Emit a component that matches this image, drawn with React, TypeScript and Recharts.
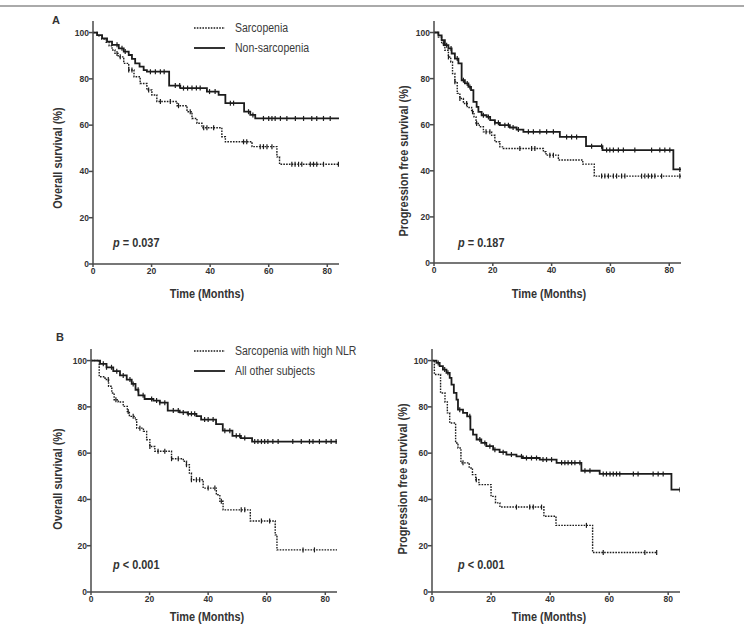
import { ComposedChart, Line, Scatter, XAxis, YAxis } from 'recharts'

const FONT =
	"'Liberation Sans Narrow', 'Arial Narrow', 'Liberation Sans', Arial, sans-serif"

const monthTicks = [0, 20, 40, 60, 80]
const percentTicks = [0, 20, 40, 60, 80, 100]

// A: overall survival, sarcopenia vs non-sarcopenia
const osSarcTime = [0, 1.5, 3.0, 4.5, 5.5, 6.5, 7.5, 8.6, 10.5, 12.2, 14.0, 16.1, 18.4, 20.1, 21.8, 28.7, 32.1, 33.8, 35.5, 37.2, 44.0, 45.2, 54.3, 62.8, 63.7]
const osSarcSurv = [100, 98.6, 97.2, 95.8, 94.3, 92.5, 91.0, 89.5, 86.7, 83.8, 80.9, 78.0, 75.2, 73.0, 70.2, 68.4, 65.8, 62.9, 60.8, 58.9, 55.0, 52.8, 50.7, 46.3, 43.1]
const osSarcCensor = [8.2, 9.3, 12.2, 13.3, 19.0, 23.0, 26.4, 29.2, 33.2, 37.8, 38.9, 41.2, 51.4, 52.5, 57.1, 58.2, 59.4, 61.1, 67.9, 69.0, 70.2, 71.3, 74.2, 75.3, 76.4, 78.7, 83.8]

const osNonTime = [0, 1.4, 3.1, 4.8, 6.5, 8.8, 10.5, 12.2, 13.3, 14.4, 15.9, 17.3, 18.4, 26.0, 29.8, 38.9, 42.9, 45.2, 51.6, 53.7, 55.4]
const osNonSurv = [100, 98.9, 97.5, 96.1, 94.7, 93.2, 91.8, 90.3, 88.6, 86.7, 85.3, 83.8, 83.1, 77.1, 76.0, 74.5, 73.1, 69.5, 65.8, 64.4, 62.9]
const osNonCensor = [8.2, 9.9, 11.0, 19.6, 21.3, 23.0, 24.3, 28.1, 29.6, 30.9, 32.3, 33.8, 35.3, 36.6, 39.8, 41.7, 46.9, 48.0, 53.1, 54.6, 58.2, 60.0, 61.1, 62.2, 64.0, 66.2, 69.1, 71.9, 74.7, 76.4, 78.7, 81.0]

// A: progression free survival
const pfsSarcTime = [0, 1.5, 2.6, 3.7, 4.9, 5.7, 6.3, 7.1, 7.9, 8.8, 10.0, 11.3, 12.8, 13.6, 14.3, 15.4, 16.8, 19.6, 20.7, 22.4, 23.6, 37.2, 38.1, 42.3, 50.6, 54.5]
const pfsSarcSurv = [100, 98.0, 95.2, 92.3, 89.4, 87.2, 82.2, 78.6, 73.6, 71.4, 69.2, 67.5, 65.6, 63.4, 60.5, 59.1, 56.9, 55.4, 52.6, 50.4, 49.7, 48.3, 46.8, 44.7, 42.9, 37.7]
const pfsSarcCensor = [3.2, 4.9, 7.1, 8.8, 11.1, 13.1, 14.5, 17.7, 19.0, 29.2, 33.2, 34.3, 39.4, 40.6, 57.0, 58.1, 59.3, 61.0, 62.1, 63.8, 64.9, 70.6, 71.7, 72.9, 74.0, 75.1, 77.4, 83.6]

const pfsNonTime = [0, 1.5, 2.6, 3.7, 4.9, 6.0, 7.1, 8.3, 9.4, 10.5, 11.7, 12.6, 13.4, 14.5, 15.1, 16.2, 17.9, 19.1, 20.7, 22.4, 25.8, 28.1, 30.4, 42.8, 51.7, 57.3, 81.4]
const pfsNonSurv = [100, 98.8, 96.7, 94.5, 93.1, 90.9, 88.7, 86.6, 79.3, 77.9, 76.4, 75.0, 69.9, 67.7, 65.6, 64.1, 63.4, 62.0, 60.8, 59.8, 58.8, 57.9, 56.9, 54.7, 50.7, 49.0, 40.6]
const pfsNonCensor = [4.3, 5.8, 7.9, 10.0, 11.3, 12.2, 16.8, 18.5, 20.7, 21.9, 24.1, 25.3, 26.9, 28.7, 32.1, 33.8, 36.0, 38.3, 40.6, 45.1, 46.8, 48.5, 53.6, 57.0, 58.7, 59.8, 61.0, 62.7, 64.4, 68.3, 74.0, 76.8, 78.5, 80.2, 83.6]

// B: overall survival, sarcopenia with high NLR vs all others
const osNlrTime = [0, 2.8, 4.8, 6.0, 7.1, 7.9, 9.3, 11.0, 12.4, 13.1, 15.1, 15.6, 17.9, 19.0, 20.1, 21.8, 27.5, 31.5, 32.6, 33.6, 34.3, 38.3, 42.8, 44.0, 45.1, 54.4, 62.9, 63.5]
const osNlrSurv = [100, 93.0, 91.8, 88.9, 86.0, 83.1, 82.1, 80.2, 78.0, 75.9, 74.4, 70.8, 69.4, 65.8, 62.9, 60.8, 57.6, 56.5, 55.0, 51.4, 48.5, 44.9, 42.0, 39.2, 35.5, 30.7, 24.7, 18.2]
const osNlrCensor = [5.9, 8.5, 12.7, 14.4, 16.7, 20.1, 22.9, 25.2, 27.5, 29.8, 32.6, 34.3, 36.0, 37.1, 40.0, 42.3, 44.5, 51.3, 52.5, 58.2, 61.0, 72.4, 76.3]

const osOtherTime = [0, 3.1, 5.3, 7.6, 9.9, 12.2, 13.9, 15.2, 16.2, 18.3, 21.3, 23.5, 26.2, 30.3, 33.0, 36.0, 37.6, 42.7, 45.0, 48.3, 51.2, 55.0]
const osOtherSurv = [100, 98.6, 97.1, 95.4, 93.6, 91.8, 89.9, 87.4, 85.0, 83.4, 82.7, 81.8, 78.4, 77.6, 77.0, 76.0, 74.5, 72.5, 69.7, 67.5, 66.5, 65.0]
const osOtherCensor = [4.2, 5.3, 7.0, 8.8, 11.0, 13.3, 14.4, 16.1, 17.8, 20.7, 22.4, 23.5, 25.2, 28.1, 29.8, 31.5, 33.2, 34.3, 35.4, 38.8, 40.0, 41.7, 45.7, 47.4, 49.6, 50.8, 52.5, 55.9, 57.0, 58.2, 59.3, 60.4, 62.1, 63.9, 68.9, 71.8, 74.6, 75.8, 78.0, 80.3, 82.0, 83.7]

// B: progression free survival
const pfsNlrTime = [0, 0.8, 2.9, 4.4, 5.2, 6.0, 8.0, 8.8, 9.8, 12.6, 13.7, 14.8, 15.9, 20.0, 21.5, 23.0, 37.9, 42.0, 54.4]
const pfsNlrSurv = [100, 94.0, 86.0, 82.1, 77.4, 73.0, 64.4, 62.2, 55.8, 53.6, 50.7, 48.5, 46.4, 41.3, 38.5, 36.7, 32.7, 28.8, 17.1]
const pfsNlrCensor = [10.5, 15.0, 28.6, 33.1, 34.3, 37.1, 52.3, 58.0, 72.1, 76.1]

const pfsOtherTime = [0, 1.5, 2.6, 3.7, 4.9, 6.0, 6.6, 7.4, 8.3, 8.8, 10.5, 11.9, 13.0, 13.9, 15.1, 16.7, 18.4, 20.7, 22.9, 25.2, 28.6, 30.8, 36.5, 42.2, 50.6, 56.8, 81.1]
const pfsOtherSurv = [100, 99.0, 97.6, 96.1, 94.7, 92.5, 89.6, 86.0, 83.1, 78.8, 77.4, 75.9, 70.2, 68.0, 65.9, 64.4, 63.0, 61.5, 60.4, 59.4, 58.6, 57.9, 57.2, 55.8, 52.4, 51.0, 44.2]
const pfsOtherCensor = [2.1, 4.3, 5.4, 9.4, 12.8, 16.2, 17.9, 19.6, 21.3, 24.1, 26.9, 30.3, 32.0, 33.7, 35.4, 37.6, 38.8, 40.5, 43.9, 45.0, 46.1, 47.3, 48.4, 50.1, 51.8, 53.5, 58.0, 59.1, 60.3, 61.4, 62.5, 63.6, 68.2, 69.8, 74.9, 76.6, 78.3, 84.0]

const INK = '#1c1c1c'
const AXIS = '#4a4a4a'
const TEXT = '#333'
const DOTS = '1.6 1.2'
// the figure's lettering is condensed; squeeze the regular face to match
const SQUEEZE = 'scaleX(0.84)'

interface Curve {
	time: number[]
	surv: number[]
	censor: number[]
	end: number
	dotted?: boolean
}

const survivalAt = (time: number[], surv: number[], t: number) => {
	let v = surv[0]
	for (let i = 0; i < time.length; i++) if (time[i] <= t) v = surv[i]
	return v
}

const toSteps = (c: Curve) => [
	...c.time.map((t, i) => ({ t, s: c.surv[i] })),
	{ t: c.end, s: c.surv[c.surv.length - 1] },
]

const toCensors = (c: Curve) =>
	c.censor.map((t) => ({ t, s: survivalAt(c.time, c.surv, t) }))

const CensorMark = (props: any) => {
	const { cx, cy } = props
	if (cx == null || cy == null) return <g />
	return (
		<line x1={cx} x2={cx} y1={cy - 2.5} y2={cy + 2.5} stroke={INK} strokeWidth={1.2} />
	)
}

const Y_AXIS_W = 36
const TOP_PAD = 2
const X_AXIS_H = 16

interface PanelProps {
	left: number
	top: number
	width: number
	height: number
	curves: Curve[]
}

const Panel = ({ left, top, width, height, curves }: PanelProps) => (
	<div style={{ position: 'absolute', left: left - Y_AXIS_W, top: top - TOP_PAD }}>
		<ComposedChart
			width={width + Y_AXIS_W + 4}
			height={height + TOP_PAD + X_AXIS_H}
			margin={{ top: TOP_PAD, right: 4, bottom: 0, left: 0 }}
		>
			<XAxis
				type="number"
				dataKey="t"
				domain={[0, 84]}
				ticks={monthTicks}
				height={X_AXIS_H}
				allowDataOverflow
				tickSize={3}
				tickMargin={1}
				stroke={AXIS}
				strokeWidth={1.5}
				tick={{ fontSize: 8.5, fontWeight: 'bold', fill: TEXT, fontFamily: FONT }}
			/>
			<YAxis
				type="number"
				domain={[0, 105]}
				ticks={percentTicks}
				width={Y_AXIS_W}
				allowDataOverflow
				tickSize={4}
				tickMargin={0}
				stroke={AXIS}
				strokeWidth={1.5}
				tick={{ fontSize: 8.5, fontWeight: 'bold', fill: TEXT, fontFamily: FONT }}
			/>
			{curves.map((c, i) => (
				<Line
					key={`line-${i}`}
					data={toSteps(c)}
					dataKey="s"
					type="stepAfter"
					stroke={INK}
					strokeWidth={c.dotted ? 1.4 : 1.8}
					strokeDasharray={c.dotted ? DOTS : undefined}
					dot={false}
					activeDot={false}
					isAnimationActive={false}
				/>
			))}
			{curves.map((c, i) => (
				<Scatter
					key={`cens-${i}`}
					data={toCensors(c)}
					dataKey="s"
					shape={CensorMark}
					isAnimationActive={false}
				/>
			))}
		</ComposedChart>
	</div>
)

const textStyle = (size: number, weight: number | string) => ({
	position: 'absolute' as const,
	fontSize: size,
	fontWeight: weight,
	fontFamily: FONT,
	color: TEXT,
	whiteSpace: 'nowrap' as const,
	lineHeight: 1,
})

const yTitle = (cx: number, cy: number, label: string) => (
	<div
		style={{
			...textStyle(13, 'bold'),
			left: cx,
			top: cy,
			transform: `translate(-50%, -50%) rotate(-90deg) ${SQUEEZE}`,
		}}
	>
		{label}
	</div>
)

const xTitle = (cx: number, cy: number) => (
	<div
		style={{
			...textStyle(13, 'bold'),
			left: cx,
			top: cy,
			transform: `translate(-50%, -50%) ${SQUEEZE}`,
		}}
	>
		Time (Months)
	</div>
)

const pValue = (left: number, cy: number, rest: string) => (
	<div
		style={{
			...textStyle(13, 'bold'),
			left,
			top: cy - 6,
			transform: SQUEEZE,
			transformOrigin: 'left center',
		}}
	>
		<i>p</i> {rest}
	</div>
)

const LegendRow = ({ top, label, dotted }: { top: number; label: string; dotted?: boolean }) => (
	<div style={{ position: 'absolute', left: 194, top: top - 7, height: 14, display: 'flex', alignItems: 'center' }}>
		<svg width={32} height={14}>
			<line
				x1={0}
				x2={31}
				y1={7}
				y2={7}
				stroke={INK}
				strokeWidth={dotted ? 1.4 : 1.8}
				strokeDasharray={dotted ? DOTS : undefined}
			/>
		</svg>
		<span
			style={{
				display: 'inline-block',
				marginLeft: 9,
				fontSize: 12.5,
				fontFamily: FONT,
				color: '#3a3a3a',
				whiteSpace: 'nowrap',
				transform: SQUEEZE,
				transformOrigin: 'left center',
			}}
		>
			{label}
		</span>
	</div>
)

export default function App() {
	return (
		<div
			style={{
				position: 'absolute',
				left: 0,
				top: 0,
				width: 744,
				height: 629,
				background: '#fff',
				overflow: 'hidden',
			}}
		>
			<div style={{ position: 'absolute', left: 0, top: 5, width: 744, height: 2, background: '#aaa' }} />

			<div style={{ ...textStyle(11, 'bold'), left: 52, top: 15 }}>A</div>
			<div style={{ ...textStyle(11, 'bold'), left: 56, top: 332 }}>B</div>

			<Panel
				left={93}
				top={21}
				width={246}
				height={243}
				curves={[
					{ time: osSarcTime, surv: osSarcSurv, censor: osSarcCensor, end: 84, dotted: true },
					{ time: osNonTime, surv: osNonSurv, censor: osNonCensor, end: 84 },
				]}
			/>
			<Panel
				left={434}
				top={21}
				width={247}
				height={242}
				curves={[
					{ time: pfsSarcTime, surv: pfsSarcSurv, censor: pfsSarcCensor, end: 84, dotted: true },
					{ time: pfsNonTime, surv: pfsNonSurv, censor: pfsNonCensor, end: 84 },
				]}
			/>
			<Panel
				left={91}
				top={349}
				width={246}
				height={243}
				curves={[
					{ time: osNlrTime, surv: osNlrSurv, censor: osNlrCensor, end: 84, dotted: true },
					{ time: osOtherTime, surv: osOtherSurv, censor: osOtherCensor, end: 84 },
				]}
			/>
			<Panel
				left={432}
				top={349}
				width={248}
				height={243}
				curves={[
					{ time: pfsNlrTime, surv: pfsNlrSurv, censor: pfsNlrCensor, end: 76.3, dotted: true },
					{ time: pfsOtherTime, surv: pfsOtherSurv, censor: pfsOtherCensor, end: 84 },
				]}
			/>

			<LegendRow top={28} label="Sarcopenia" dotted />
			<LegendRow top={48} label="Non-sarcopenia" />
			<LegendRow top={351} label="Sarcopenia with high NLR" dotted />
			<LegendRow top={371} label="All other subjects" />

			{yTitle(57, 158, 'Overall survival (%)')}
			{yTitle(403, 161, 'Progression free survival (%)')}
			{yTitle(57, 479, 'Overall survival (%)')}
			{yTitle(402, 479, 'Progression free survival (%)')}

			{xTitle(207, 293)}
			{xTitle(549, 293)}
			{xTitle(207, 616)}
			{xTitle(549, 616)}

			{pValue(113, 242, '= 0.037')}
			{pValue(458, 242, '= 0.187')}
			{pValue(113, 564, '< 0.001')}
			{pValue(458, 564, '< 0.001')}
		</div>
	)
}
